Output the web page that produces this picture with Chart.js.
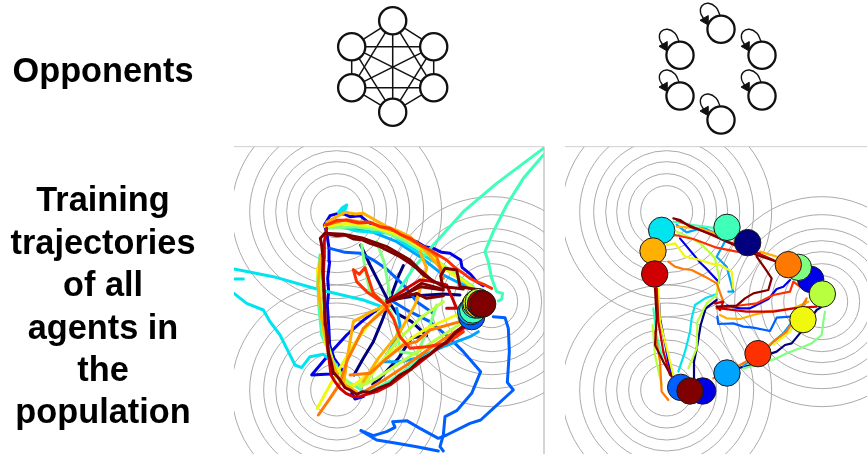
<!DOCTYPE html>
<html><head><meta charset="utf-8">
<style>html,body{margin:0;padding:0;background:#fff}canvas{display:block}</style>
<script src="https://cdn.jsdelivr.net/npm/chart.js@4"></script>
</head><body><canvas id="c" width="867" height="454"></canvas>
<script>
const headings=[["Opponents",103,73]];
const trainingLines=[["Training",103,202],["trajectories",103,245],["of all",103,287],["agents in",103,330],["the",103,372],["population",103,414]];
const jet={navy:'#00007f',blue:'#0000e8',azure:'#0060ff',sky:'#00a4ff',cyan:'#00e4f0',aqua:'#40ffb8',lgreen:'#80ff80',ygreen:'#b8ff40',yellow:'#f0f80e',amber:'#ffb000',orange:'#ff7800',redor:'#ff3000',red:'#d00000',dred:'#800000'};
// opponent graphs
const allNodes=[[392.7,20.7],[351.7,46.7],[433.7,46.7],[351.7,87.7],[433.7,87.7],[392.7,112.3]];
const selfNodes=[[721,29.3],[680,55.3],[762,55.3],[680,96],[762,96],[721,120]];
const edges=[[0,1],[0,2],[0,3],[0,4],[0,5],[1,2],[1,3],[1,4],[1,5],[2,3],[2,4],[2,5],[3,4],[3,5],[4,5]];
const loopShape=[[-1,-14],[-5,-22],[-12.5,-26],[-19,-23.5],[-20.5,-17],[-17,-10]];
const arrowOffset=[-15.5,-9];
// contour centres, in panel units
const contourCentres=[[320,200],[320,735],[785,470]];
const ringRadii=[26,38,50,61,73,87,105];
const cellA=[[0,0],[799,0],[502,515],[0,515]];
const cellB=[[0,420],[501,420],[795,930],[0,930]];
const cellC=[[421,468],[691,0],[960,0],[960,930],[688,930]];
// left panel trajectories
const lNavy1=[[520,362],[505,395],[492,430],[478,468],[455,530],[430,590],[400,640],[372,690]];
const lNavy2=[[392,300],[420,360],[448,415],[475,468],[500,505],[545,530],[590,572],[545,578],[505,640],[450,700],[428,718]];
const lNavy3=[[470,466],[560,452],[640,447],[690,450]];
const lBlue1=[[345,680],[300,687],[245,690],[300,625],[350,570],[395,530],[440,495],[480,470]];
const lBlue2=[[340,680],[312,640],[299,600],[296,540],[292,480],[296,440],[293,400],[299,350],[297,310],[290,262],[283,240],[300,212],[325,205],[345,208],[360,215],[390,212],[415,232],[440,245],[470,252],[500,265],[530,280],[560,290],[585,305],[610,310],[635,322],[660,325],[692,345],[696,367],[722,388],[740,410],[760,422]];
const lBlue3=[[365,745],[375,762],[400,755]];
const lAzure1=[[393,857],[430,872],[470,860],[495,847],[488,830],[530,827],[570,850],[625,880],[650,870],[720,835],[752,825],[790,790],[850,735],[832,712],[838,620],[835,550],[825,518],[790,515]];
const lAzure2=[[640,918],[630,905],[640,870],[645,815],[680,797],[725,745],[752,680],[700,620],[660,580],[600,530],[540,500],[490,470]];
const lAzure3=[[393,857],[440,885],[500,895],[560,905],[625,918]];
const lAzure4=[[300,310],[345,322],[392,325],[430,345],[470,372],[525,425],[560,470],[610,505]];
const lSky1=[[460,650],[510,650],[560,640],[640,605],[720,575],[745,560]];
const lSky2=[[500,490],[510,540],[495,590],[470,630]];
const lSky3=[[300,245],[360,250],[430,262],[500,290],[570,335],[640,390],[720,430]];
const lCyan1=[[12,372],[130,395],[260,432],[400,465],[470,490]];
const lCyan2=[[12,402],[40,402]];
const lCyan3=[[12,445],[50,475],[100,495],[120,530],[150,570],[170,610],[195,660],[215,668],[240,635],[280,628],[320,660]];
const lCyan4=[[300,235],[380,258],[480,265],[530,300],[570,325],[615,352],[660,380],[700,410],[740,440]];
const lCyan5=[[350,180],[335,190],[325,203],[345,195],[350,180]];
const lAqua1=[[940,10],[800,115],[700,200],[610,300],[550,370],[490,460]];
const lAqua2=[[940,30],[880,100],[830,180],[790,260],[765,320],[775,350],[785,400],[800,440],[818,445],[815,462],[805,468]];
const lAqua3=[[270,330],[263,400],[266,480],[275,570],[305,640],[345,705],[400,738],[440,730],[480,708],[520,680],[560,650],[600,625],[650,590],[690,555]];
const lGreen1=[[395,300],[405,370],[420,440],[470,475],[500,540],[510,620],[560,628],[600,540],[620,480]];
const lGreen2=[[440,290],[462,350],[480,450]];
const lGreen3=[[292,250],[370,245],[450,255],[520,285],[590,325],[660,375],[730,425]];
const lYGreen1=[[270,350],[272,450],[282,560],[312,660],[360,720],[405,715],[500,590],[570,520],[640,470]];
const lYGreen2=[[390,725],[440,700],[500,660],[570,615],[640,570],[700,530]];
const lYellow1=[[262,790],[300,720],[370,600],[430,520],[478,470]];
const lYellow2=[[262,370],[270,480],[285,590],[320,690],[360,730],[410,690],[500,610],[590,550],[680,510]];
const lYellow3=[[285,245],[350,235],[430,245],[480,262],[520,275],[555,298],[590,320],[630,355],[670,390],[705,410],[740,440]];
const lAmber1=[[290,232],[320,215],[345,202],[375,207],[400,205],[435,225],[470,245],[505,258],[540,275],[565,298],[590,320],[615,350],[640,380]];
const lAmber2=[[340,720],[355,620],[370,530],[425,500],[480,475]];
const lAmber3=[[400,710],[445,640],[510,560],[555,480],[590,370],[570,320]];
const lAmber4=[[272,330],[264,420],[275,520],[295,620],[330,710],[380,740]];
const lOrange1=[[265,810],[300,760],[330,715],[350,650],[400,550],[440,515],[480,478]];
const lOrange2=[[360,690],[420,685],[470,640],[520,600],[560,590],[600,555],[690,530]];
const lOrange3=[[285,240],[350,224],[385,230],[420,232],[460,248],[500,260],[535,282],[570,300],[600,318],[620,335],[640,400]];
const lOrange4=[[410,735],[470,700],[530,660],[600,610],[660,570],[715,535]];
const lRedOr1=[[470,490],[490,520],[510,575],[540,610],[590,605],[650,595],[700,560]];
const lRedOr2=[[470,485],[430,445],[405,368],[388,388],[370,374],[380,410],[410,440],[460,475]];
const lRedOr3=[[290,240],[320,226],[350,226],[385,234],[420,232],[450,245],[480,250],[510,268],[540,280],[570,300],[600,315],[625,330],[650,345],[675,368],[700,385],[720,400],[740,410],[765,420],[785,430]];
const lRed1=[[745,500],[720,530],[700,550],[670,570],[640,598],[600,628],[560,660],[520,690],[480,720],[445,738],[410,748],[390,755],[370,755],[348,745],[330,730],[315,710],[303,690],[297,640],[292,600],[288,550],[283,500],[284,450],[280,400],[282,340],[283,290],[290,250]];
const lRed2=[[470,470],[530,430],[570,405],[600,408],[650,420],[680,490],[650,490]];
const lDred1=[[472,472],[520,450],[572,425],[640,435],[632,392],[645,370],[680,375],[690,425],[750,435]];
const lDred2=[[760,470],[728,510],[702,542],[676,562],[650,592],[625,606],[600,628],[570,645],[540,674],[510,690],[480,716],[450,728],[420,742],[398,740],[380,748],[360,735],[345,728],[328,702],[310,682],[303,650],[295,622],[293,580],[287,540],[285,500],[282,460],[281,420],[278,380],[279,340],[275,300],[271,280],[285,265],[320,272],[345,270],[370,282],[395,284],[420,295],[450,305],[480,320],[510,335],[540,355],[560,370],[580,390],[610,408],[640,425],[670,428],[700,432]];
const lDred3=[[285,265],[340,268],[400,280],[470,305],[540,345],[570,375],[610,410]];
const lDred4=[[480,468],[560,445],[590,460],[640,452]];
const lDred5=[[476,470],[530,445],[575,415],[630,430]];
// right panel trajectories
const rNavy1=[[470,465],[437,490],[422,540],[412,600],[402,650],[402,700]];
const rNavy2=[[540,668],[575,660],[600,650],[625,628],[650,620],[675,600],[695,595],[722,562],[745,530],[770,495],[790,482]];
const rBlue1=[[360,280],[395,322],[418,350],[438,370],[477,412]];
const rBlue2=[[500,482],[540,490],[570,490],[600,475],[625,462],[650,432],[670,425],[690,405]];
const rBlue3=[[290,430],[298,480],[300,520],[310,570],[318,610],[325,650],[335,690]];
const rAzure1=[[472,515],[475,537],[520,535],[550,545],[580,548],[630,558],[650,518],[690,515]];
const rSky1=[[350,240],[380,262],[430,248],[500,280],[470,335],[500,365],[520,440],[505,440]];
const rSky2=[[550,662],[585,640],[610,622],[640,590],[670,565],[700,525],[740,470]];
const rCyan1=[[355,680],[375,620],[390,560],[395,520],[405,480],[435,460],[470,447]];
const rAqua1=[[340,230],[400,240],[470,250],[520,280]];
const rAqua2=[[280,490],[290,570],[310,650]];
const rGreen1=[[550,670],[590,660],[620,650],[650,640],[680,625],[720,610],[755,595],[785,570],[790,530],[795,500]];
const rYGreen1=[[350,260],[385,275],[420,295],[445,318],[465,340],[478,400],[470,445]];
const rYGreen2=[[278,540],[285,630],[305,720]];
const rYGreen3=[[385,670],[410,610],[412,530],[440,475],[470,450]];
const rYellow1=[[295,430],[300,530],[320,610],[340,690]];
const rYellow2=[[320,300],[345,295],[375,335],[420,345],[450,355],[480,360],[515,380],[520,430]];
const rYellow3=[[640,600],[690,560],[730,480]];
const rAmber1=[[600,320],[650,335]];
const rAmber2=[[480,510],[500,520],[540,522],[580,510],[620,500],[660,495],[700,490],[745,470]];
const rAmber3=[[350,245],[420,250],[480,270]];
const rOrange1=[[325,350],[345,365],[370,372],[395,375],[435,395],[470,415],[490,470]];
const rOrange2=[[285,560],[300,650],[305,740],[325,765]];
const rOrange3=[[460,700],[540,660],[600,625],[640,590],[680,560],[740,460]];
const rRedOr1=[[345,270],[400,282],[470,308],[530,320],[600,325]];
const rRedOr2=[[470,490],[550,480],[590,475],[640,450],[690,440],[700,410],[720,425]];
const rRed1=[[290,430],[295,530],[310,620],[330,690]];
const rRed2=[[480,490],[560,500],[640,500],[700,490],[770,485]];
const rRed3=[[465,475],[490,470],[480,495],[470,485]];
const rRed4=[[350,225],[420,255],[490,285],[560,310],[640,345]];
const rDred1=[[470,485],[530,482],[555,460],[580,445],[625,435],[635,400],[615,370],[590,335]];
const rDred2=[[340,220],[360,225],[390,245],[420,255],[460,270],[500,290],[545,310],[590,330],[650,350]];
const rDred3=[[285,430],[290,520],[285,600],[300,630],[310,650],[335,695]];
// markers at the end of training
const leftMarkers=[[[725,515],jet.azure],[[722,500],jet.sky],[[728,495],jet.aqua],[[735,480],jet.cyan],[[738,475],jet.yellow],[[745,480],jet.amber],[[745,470],jet.ygreen],[[752,478],jet.navy],[[752,475],jet.red],[[758,477],jet.dred]];
const rightMarkers=[[[501,247],jet.aqua],[[563,293],jet.navy],[[305,256],jet.cyan],[[279,318],jet.amber],[[284,387],jet.red],[[752,403],jet.blue],[[715,367],jet.lgreen],[[685,359],jet.orange],[[787,447],jet.ygreen],[[729,524],jet.yellow],[[594,626],jet.redor],[[501,684],jet.sky],[[428,738],jet.blue],[[362,727],jet.azure],[[390,738],jet.dred]];
const leftPaths=[[lNavy1,'navy'],[lNavy2,'navy'],[lNavy3,'navy'],[lBlue1,'blue'],[lBlue2,'blue'],[lBlue3,'blue'],[lAzure1,'azure'],[lAzure2,'azure'],[lAzure3,'azure'],[lAzure4,'azure'],[lSky1,'sky'],[lSky2,'sky'],[lSky3,'sky'],[lCyan1,'cyan'],[lCyan2,'cyan'],[lCyan3,'cyan'],[lCyan4,'cyan'],[lCyan5,'cyan'],[lAqua1,'aqua'],[lAqua2,'aqua'],[lAqua3,'aqua'],[lGreen1,'lgreen'],[lGreen2,'lgreen'],[lGreen3,'lgreen'],[lYGreen1,'ygreen'],[lYGreen2,'ygreen'],[lYellow1,'yellow'],[lYellow2,'yellow'],[lYellow3,'yellow'],[lAmber1,'amber'],[lAmber2,'amber'],[lAmber3,'amber'],[lAmber4,'amber'],[lOrange1,'orange'],[lOrange2,'orange'],[lOrange3,'orange'],[lOrange4,'orange'],[lRedOr1,'redor'],[lRedOr2,'redor'],[lRedOr3,'redor'],[lRed1,'red'],[lRed2,'red'],[lDred1,'dred'],[lDred2,'dred'],[lDred3,'dred'],[lDred4,'dred'],[lDred5,'dred']];
const rightPaths=[[rNavy1,'navy'],[rNavy2,'navy'],[rBlue1,'blue'],[rBlue2,'blue'],[rBlue3,'blue'],[rAzure1,'azure'],[rSky1,'sky'],[rSky2,'sky'],[rCyan1,'cyan'],[rAqua1,'aqua'],[rAqua2,'aqua'],[rGreen1,'lgreen'],[rYGreen1,'ygreen'],[rYGreen2,'ygreen'],[rYGreen3,'ygreen'],[rYellow1,'yellow'],[rYellow2,'yellow'],[rYellow3,'yellow'],[rAmber1,'amber'],[rAmber2,'amber'],[rAmber3,'amber'],[rOrange1,'orange'],[rOrange2,'orange'],[rOrange3,'orange'],[rRedOr1,'redor'],[rRedOr2,'redor'],[rRed1,'red'],[rRed2,'red'],[rRed3,'red'],[rRed4,'red'],[rDred1,'dred'],[rDred2,'dred'],[rDred3,'dred']];

const pts=a=>a.map(p=>({x:p[0],y:p[1]}));
const list=[];
function spine(xAxis,a){list.push({type:'scatter',showLine:true,xAxisID:xAxis,yAxisID:'yZ',data:pts(a),borderColor:'#cfcfcf',borderWidth:1,pointRadius:0});}
function panel(xAxis,rect,paths,markers,lw){
  [[0,cellA],[1,cellB],[2,cellC]].forEach(([i,cell])=>{
    list.push({type:'scatter',xAxisID:xAxis,yAxisID:'yZ',data:ringRadii.map(()=>({x:contourCentres[i][0],y:contourCentres[i][1]})),
      pointRadius:ringRadii,backgroundColor:'rgba(0,0,0,0)',borderColor:'#aaaaaa',borderWidth:1,pointHoverRadius:ringRadii,cellPoly:cell,rectPoly:rect});
  });
  paths.forEach(([a,c])=>list.push({type:'scatter',showLine:true,xAxisID:xAxis,yAxisID:'yZ',data:pts(a),borderColor:jet[c],borderWidth:lw,pointRadius:0,borderJoinStyle:'round',borderCapStyle:'round',rectPoly:rect}));
  markers.forEach(([p,c])=>list.push({type:'scatter',xAxisID:xAxis,yAxisID:'yZ',data:pts([p]),backgroundColor:c,borderColor:'#1a1a1a',borderWidth:1,pointRadius:13.2}));
}
const leftRect=[[12,5],[942,5],[942,935],[12,935]];
const rightRect=[[15,5],[930,5],[930,935],[15,935]];
spine('xL',[[12,5],[942,5],[942,930]]);
spine('xR',[[15,5],[930,5]]);
panel('xL',leftRect,leftPaths,leftMarkers,3);
panel('xR',rightRect,rightPaths,rightMarkers,2.2);
// opponent graphs
edges.forEach(([a,b])=>list.push({type:'scatter',showLine:true,xAxisID:'xP',yAxisID:'yP',data:pts([allNodes[a],allNodes[b]]),borderColor:'#111',borderWidth:1.5,pointRadius:0}));
list.push({type:'scatter',xAxisID:'xP',yAxisID:'yP',data:pts(allNodes),backgroundColor:'#fff',borderColor:'#111',borderWidth:2.3,pointRadius:13.6});
selfNodes.forEach(n=>{
  list.push({type:'scatter',showLine:true,tension:0.4,xAxisID:'xP',yAxisID:'yP',data:pts(loopShape.map(o=>[n[0]+o[0],n[1]+o[1]])),borderColor:'#111',borderWidth:1.4,pointRadius:0});
  list.push({type:'scatter',xAxisID:'xP',yAxisID:'yP',data:pts([[n[0]+arrowOffset[0],n[1]+arrowOffset[1]]]),pointStyle:'triangle',rotation:150,pointRadius:5.5,backgroundColor:'#111',borderColor:'#111',borderWidth:1});
});
list.push({type:'scatter',xAxisID:'xP',yAxisID:'yP',data:pts(selfNodes),backgroundColor:'rgba(255,255,255,0)',borderColor:'#111',borderWidth:2.3,pointRadius:13.6});
list.reverse();

const polyPlugin={id:'poly',
  beforeDatasetDraw(chart,args){
    const ds=chart.data.datasets[args.index];
    if(!ds.rectPoly)return;
    const ctx=chart.ctx,xs=chart.scales[ds.xAxisID],ys=chart.scales[ds.yAxisID];
    ctx.save();
    [ds.rectPoly,ds.cellPoly].forEach(poly=>{
      if(!poly)return;
      ctx.beginPath();
      poly.forEach((p,i)=>{const X=xs.getPixelForValue(p[0]),Y=ys.getPixelForValue(p[1]);i?ctx.lineTo(X,Y):ctx.moveTo(X,Y);});
      ctx.closePath();ctx.clip();
    });
  },
  afterDatasetDraw(chart,args){
    const ds=chart.data.datasets[args.index];
    if(ds.rectPoly)chart.ctx.restore();
  }};
const textPlugin={id:'txt',
  afterDraw(chart){
    const ctx=chart.ctx;ctx.save();
    ctx.font='bold 34.3px "Liberation Sans"';ctx.fillStyle='#000';ctx.textAlign='center';ctx.textBaseline='middle';
    headings.concat(trainingLines).forEach(([t,x,y])=>ctx.fillText(t,x,y));
    ctx.restore();
  }};
const hidden=(min,max,reverse)=>({type:'linear',display:false,min,max,reverse:!!reverse});
new Chart(document.getElementById('c'),{
  data:{datasets:list},
  plugins:[polyPlugin,textPlugin],
  options:{responsive:false,animation:false,events:[],layout:{padding:0,autoPadding:false},
    plugins:{legend:{display:false},title:{display:false},tooltip:{enabled:false}},
    scales:{
      xP:hidden(0,867),yP:hidden(0,454,true),
      xL:hidden(-690,1911),xR:hidden(-1680,921),yZ:hidden(-435,927,true)
    }}
});
</script></body></html>
